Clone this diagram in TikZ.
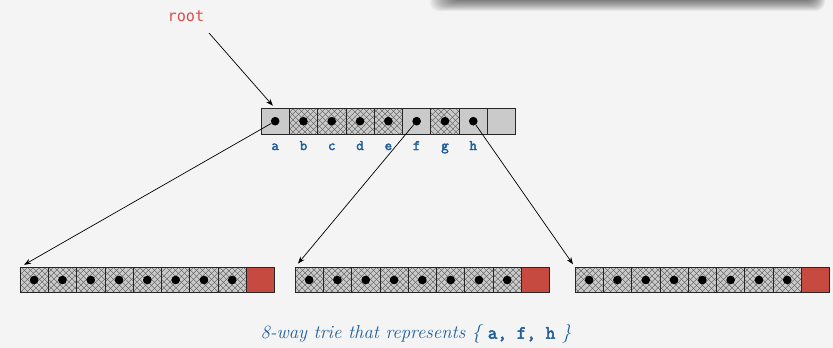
\documentclass[tikz,border=0pt]{standalone}
\usepackage{fontspec}
\newfontfamily\rootfont{DejaVu Sans Mono}
\newfontfamily\keyfont{Latin Modern Mono}[FakeBold=2.5]
\usetikzlibrary{patterns, patterns.meta, positioning, arrows.meta}

\definecolor{bgc}{HTML}{F4F4F4}
\definecolor{cellgray}{HTML}{CACACA}
\definecolor{keyred}{HTML}{C74A40}
\definecolor{keyblue}{HTML}{1F5E9C}
\definecolor{rootred}{HTML}{D6504A}

\begin{document}
\begin{tikzpicture}[
        x=0.03cm, y=-0.03cm,
        cell/.style={
            rectangle,
            draw=black!85,
            line width=0.6pt,
            fill=cellgray,
            minimum width=0.849cm,
            minimum height=0.771cm,
            inner sep=0pt,
            outer sep=0pt
        },
        hatched/.style={cell, preaction={fill=cellgray},
            pattern={Lines[angle=45, distance=4pt, line width=0.45pt]}, pattern color=black!65,
            postaction={draw=black!85, line width=0.6pt,
                pattern={Lines[angle=-45, distance=4pt, line width=0.45pt]}, pattern color=black!65}},
        valcell/.style={cell, fill=keyred},
        ptr/.style={circle, fill=black, inner sep=0pt, minimum size=0.26cm},
        keylbl/.style={font=\keyfont\fontsize{12.5}{14}\selectfont, text=keyblue, anchor=base},
        arrow/.style={-{Stealth[length=6pt, width=4.5pt]}, line width=0.6pt}
    ]

    % background and the shadow of the box above
    \fill[bgc] (0,0) rectangle (833,348);
    \begin{scope}
        \clip (0,0) rectangle (833,348);
        \foreach \k in {0,...,11}
            \fill[black, opacity=0.055, rounded corners=8pt] ({452-2*\k},-40) rectangle ({814+\k},{\k});
    \end{scope}

    % Root node
    \node[font=\rootfont\fontsize{13}{15}\selectfont, text=rootred] (root) at (186,16) {root};
    \coordinate (rstart) at (209,33);

    % Top node
    \node[cell] (t0) at (275.15,121.2) {};
    \foreach \i/\j/\s in {1/0/hatched, 2/1/hatched, 3/2/hatched, 4/3/hatched,
                          5/4/cell, 6/5/hatched, 7/6/cell, 8/7/cell}
        \node[\s, right=0pt of t\j] (t\i) {};
    \foreach \i/\c in {0/a, 1/b, 2/c, 3/d, 4/e, 5/f, 6/g, 7/h} {
        \node[ptr] (dt\i) at (t\i) {};
        \node[keylbl] (k\i) at ([yshift=-0.48cm]t\i.south) {\c};
    }

    % Bottom nodes
    \foreach \row/\x in {l/34.15, m/309.15, r/589.15} {
        \node[hatched] (\row0) at (\x,280) {};
        \foreach \i [count=\j from 0] in {1,...,7}
            \node[hatched, right=0pt of \row\j] (\row\i) {};
        \node[valcell, right=0pt of \row7] (\row8) {};
        \foreach \i in {0,...,7}
            \node[ptr] (\row d\i) at (\row\i) {};
    }

    % Arrows
    \draw[arrow, shorten >=3pt] (rstart) -- (t0.north);
    \draw[arrow, shorten >=4pt] (dt0) -- (l0.north west);
    \draw[arrow, shorten >=4pt] (dt5) -- (m0.north west);
    \draw[arrow, shorten >=3pt] (dt7) -- (r0.north west);

    % Caption
    \node[font=\itshape\fontsize{16}{18}\selectfont, text=keyblue] (cap) at (416,334)
        {8-way trie that represents \{ {\upshape\keyfont a, f, h} \}};

\end{tikzpicture}
\end{document}
